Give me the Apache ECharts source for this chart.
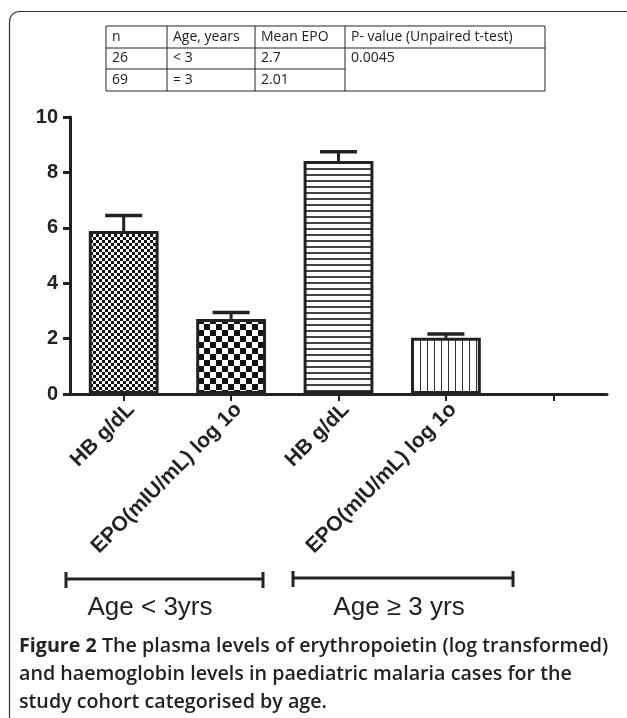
<!DOCTYPE html>
<html>
<head>
<meta charset="utf-8">
<script src="https://cdn.jsdelivr.net/npm/echarts@6/dist/echarts.min.js"></script>
<style>
html, body { margin: 0; padding: 0; background: #fff; }
#chart { width: 627px; height: 718px; }
</style>
</head>
<body>
<div id="chart"></div>
<script>
// values
const categories = ['HB g/dL', 'EPO(mIU/mL) log 1o', 'HB g/dL', 'EPO(mIU/mL) log 1o', ''];
const means = [5.88, 2.71, 8.41, 2.03, null];
const sem = [0.56, 0.23, 0.34, 0.14, null];
const patterns = ['fineCheck', 'coarseCheck', 'hLines', 'vLines'];

const tableHeader = ['n', 'Age, years', 'Mean EPO', 'P- value (Unpaired t-test)'];
const tableRows = [['26', '< 3', '2.7'], ['69', '= 3', '2.01']];
const pValue = '0.0045';

const groupLabels = ['Age < 3yrs', 'Age \u2265 3 yrs'];
const captionBold = 'Figure 2';
const captionText = ' The plasma levels of erythropoietin (log transformed)\nand haemoglobin levels in paediatric malaria cases for the\nstudy cohort categorised by age.';

const INK = '#222';

function makePattern(kind) {
  const c = document.createElement('canvas');
  const ctx = c.getContext('2d');
  if (kind === 'fineCheck' || kind === 'coarseCheck') {
    const s = kind === 'fineCheck' ? 3 : 6;
    c.width = c.height = s * 2;
    ctx.fillStyle = '#fff';
    ctx.fillRect(0, 0, s * 2, s * 2);
    ctx.fillStyle = '#111';
    ctx.fillRect(0, 0, s, s);
    ctx.fillRect(s, s, s, s);
  } else if (kind === 'hLines') {
    c.width = 4; c.height = 6;
    ctx.fillStyle = '#fff';
    ctx.fillRect(0, 0, 4, 6);
    ctx.fillStyle = '#444';
    ctx.fillRect(0, 0, 4, 2);
  } else {
    c.width = 7; c.height = 4;
    ctx.fillStyle = '#fff';
    ctx.fillRect(0, 0, 7, 4);
    ctx.fillStyle = '#333';
    ctx.fillRect(0, 0, 1, 4);
  }
  return { image: c, repeat: 'repeat' };
}

// table graphic
const colX = [106, 167, 255, 345, 545];
const rowY = [26, 48, 69, 91];
const tableEls = [];
tableEls.push({ type: 'rect', shape: { x: colX[0], y: rowY[0], width: colX[4] - colX[0], height: rowY[3] - rowY[0] }, style: { fill: 'none', stroke: INK, lineWidth: 1 } });
for (let i = 1; i < 4; i++) {
  tableEls.push({ type: 'line', shape: { x1: colX[i], y1: rowY[0], x2: colX[i], y2: rowY[3] }, style: { stroke: INK, lineWidth: 1 } });
}
tableEls.push({ type: 'line', shape: { x1: colX[0], y1: rowY[1], x2: colX[4], y2: rowY[1] }, style: { stroke: INK, lineWidth: 1 } });
tableEls.push({ type: 'line', shape: { x1: colX[0], y1: rowY[2], x2: colX[3], y2: rowY[2] }, style: { stroke: INK, lineWidth: 1 } });
const cellFont = { fontFamily: 'Open Sans', fontSize: 14, fill: INK, verticalAlign: 'middle' };
tableHeader.forEach((t, i) => {
  tableEls.push({ type: 'text', x: colX[i] + 6, y: (rowY[0] + rowY[1]) / 2, style: Object.assign({ text: t }, cellFont) });
});
tableRows.forEach((row, r) => {
  row.forEach((t, i) => {
    tableEls.push({ type: 'text', x: colX[i] + 6, y: (rowY[r + 1] + rowY[r + 2]) / 2, style: Object.assign({ text: t }, cellFont) });
  });
});
tableEls.push({ type: 'text', x: colX[3] + 6, y: (rowY[1] + rowY[2]) / 2, style: Object.assign({ text: pValue }, cellFont) });

// age brackets under the axis
function bracket(x1, x2, y, label, labelX) {
  return [
    { type: 'line', shape: { x1: x1, y1: y, x2: x2, y2: y }, style: { stroke: INK, lineWidth: 3 } },
    { type: 'line', shape: { x1: x1, y1: y - 7, x2: x1, y2: y + 9 }, style: { stroke: INK, lineWidth: 3 } },
    { type: 'line', shape: { x1: x2, y1: y - 7, x2: x2, y2: y + 9 }, style: { stroke: INK, lineWidth: 3 } },
    { type: 'text', x: labelX, y: 608, style: { text: label, fontFamily: 'Liberation Sans', fontSize: 26, fill: INK, align: 'center', verticalAlign: 'middle' } }
  ];
}

const myChart = echarts.init(document.getElementById('chart'));

const option = {
  animation: false,
  grid: { left: 70, right: 20, top: 117, bottom: 324, containLabel: false, outerBoundsMode: 'none' },
  xAxis: {
    type: 'category',
    data: categories,
    axisLine: { lineStyle: { color: INK, width: 3 } },
    axisTick: { show: true, alignWithLabel: true, length: 7, lineStyle: { color: INK, width: 2 } },
    axisLabel: { interval: 0, rotate: 45, margin: 5, verticalAlign: 'top', color: INK, fontFamily: 'Liberation Sans', fontWeight: 'bold', fontSize: 21 },
    splitLine: { show: false }
  },
  yAxis: {
    type: 'value',
    min: 0,
    max: 10,
    interval: 2,
    axisLine: { show: true, lineStyle: { color: INK, width: 3 } },
    axisTick: { show: true, length: 7, lineStyle: { color: INK, width: 3 } },
    axisLabel: { margin: 12, color: INK, fontFamily: 'Liberation Sans', fontWeight: 'bold', fontSize: 20 },
    splitLine: { show: false }
  },
  series: [
    {
      type: 'custom',
      encode: { x: 0, y: [1, 2] },
      data: means.map((m, i) => [i, m, m + sem[i]]).filter(d => d[1] != null),
      renderItem: function (params, api) {
        const base = api.coord([api.value(0), api.value(1)]);
        const top = api.coord([api.value(0), api.value(2)]);
        const half = 18.5;
        return {
          type: 'group',
          children: [
            { type: 'line', shape: { x1: base[0], y1: base[1], x2: top[0], y2: top[1] }, style: { stroke: INK, lineWidth: 3 } },
            { type: 'line', shape: { x1: top[0] - half, y1: top[1], x2: top[0] + half, y2: top[1] }, style: { stroke: INK, lineWidth: 3.5 } }
          ]
        };
      },
      z: 1
    },
    {
      type: 'bar',
      barWidth: '65%',
      data: means.map((m, i) => m == null ? '-' : {
        value: m,
        itemStyle: { color: makePattern(patterns[i]) }
      }),
      itemStyle: { borderColor: INK, borderWidth: 3 },
      z: 2
    }
  ],
  graphic: [
    // figure frame (only top and left edges are in view)
    { type: 'rect', shape: { x: 9.5, y: 11.5, width: 900, height: 900, r: 10 }, style: { fill: 'none', stroke: '#333', lineWidth: 1.2 }, silent: true },
    ...tableEls,
    ...bracket(66, 263, 579, groupLabels[0], 150),
    ...bracket(293, 513, 578, groupLabels[1], 399),
    {
      type: 'text', x: 19, y: 632,
      style: {
        text: '{b|' + captionBold + '}' + captionText,
        fontFamily: 'Open Sans', fontSize: 19.7, fontWeight: 600, lineHeight: 28, fill: INK,
        rich: { b: { fontWeight: 'bold', fontFamily: 'Open Sans', fontSize: 19.7, fill: INK } }
      }
    }
  ]
};

myChart.setOption(option);
window.addEventListener('resize', function () { myChart.resize(); });
</script>
</body>
</html>
